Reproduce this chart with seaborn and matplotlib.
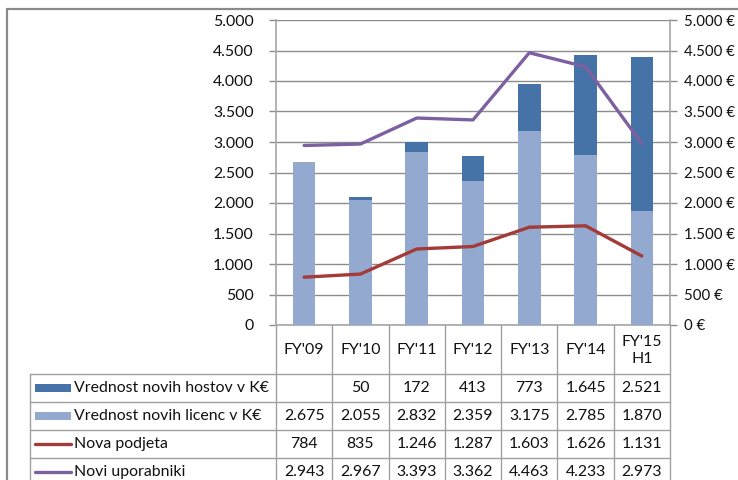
import numpy as np
import pandas as pd
import matplotlib
matplotlib.use("Agg")
import matplotlib.pyplot as plt
from matplotlib.lines import Line2D
from matplotlib.patches import Rectangle
import seaborn as sns

# ---- data ----
categories = ["FY'09", "FY'10", "FY'11", "FY'12", "FY'13", "FY'14", "FY'15\nH1"]
hostov = [np.nan, 50, 172, 413, 773, 1645, 2521]        # Vrednost novih hostov v K€
licenc = [2675, 2055, 2832, 2359, 3175, 2785, 1870]     # Vrednost novih licenc v K€
podjeta = [784, 835, 1246, 1287, 1603, 1626, 1131]      # Nova podjeta
uporabniki = [2943, 2967, 3393, 3362, 4463, 4233, 2973] # Novi uporabniki
series_names = ["Vrednost novih hostov v K€", "Vrednost novih licenc v K€",
                "Nova podjeta", "Novi uporabniki"]
yticks = [0, 500, 1000, 1500, 2000, 2500, 3000, 3500, 4000, 4500, 5000]

C_DARK = "#4572A7"
C_LIGHT = "#94A9D0"
C_RED = "#A33B38"
C_PURPLE = "#7D60A0"
GRID = "#8C8C8C"
TXT = "#111111"

sns.set_style("white")
plt.rcParams["font.family"] = ["Lato", "DejaVu Sans"]
FS = 11.4

def fmt(v):
    if v is None or (isinstance(v, float) and np.isnan(v)):
        return ""
    return f"{int(round(v)):,}".replace(",", ".")

W, H = 738, 480
fig = plt.figure(figsize=(W / 100, H / 100), dpi=100)

L, R, T, B = 276, 670, 20, 325
ax = fig.add_axes([L / W, 1 - B / H, (R - L) / W, (B - T) / H])

df = pd.DataFrame({"cat": categories, "hostov": hostov, "licenc": licenc})
df["total"] = df["licenc"] + df["hostov"].fillna(0)

sns.barplot(data=df, x="cat", y="total", color=C_DARK, saturation=1, width=0.4,
            errorbar=None, ax=ax, zorder=2, edgecolor="none")
sns.barplot(data=df, x="cat", y="licenc", color=C_LIGHT, saturation=1, width=0.4,
            errorbar=None, ax=ax, zorder=3, edgecolor="none")
ax.set_xlim(-0.5, len(categories) - 0.5)
ax.set_ylim(0, 5000)
ax.set_yticks(yticks)
ax.set_yticklabels([fmt(v) for v in yticks], fontsize=FS, color=TXT)
ax.set_xticks([])
ax.set_xlabel("")
ax.set_ylabel("")
ax.grid(axis="y", color=GRID, linewidth=1.0, zorder=0)
ax.set_axisbelow(True)
for s in ["top", "right"]:
    ax.spines[s].set_visible(False)
for s in ["left", "bottom"]:
    ax.spines[s].set_color("#A6A6A6")
    ax.spines[s].set_linewidth(1.2)
ax.tick_params(axis="y", direction="out", length=5, width=1, color=GRID, pad=11, left=True)

ax2 = ax.twinx()
xs = np.arange(len(categories))
sns.lineplot(x=xs, y=podjeta, ax=ax2, color=C_RED, linewidth=2.4, legend=False)
sns.lineplot(x=xs, y=uporabniki, ax=ax2, color=C_PURPLE, linewidth=2.4, legend=False)
ax2.set_ylim(0, 5000)
ax2.set_xlim(-0.5, len(categories) - 0.5)
ax2.set_yticks(yticks)
ax2.set_yticklabels([fmt(v) + " €" for v in yticks], fontsize=10.8, color=TXT)
ax2.set_ylabel("")
for s in ["top", "left", "bottom"]:
    ax2.spines[s].set_visible(False)
ax2.spines["right"].set_color("#A6A6A6")
ax2.spines["right"].set_linewidth(1.2)
ax2.tick_params(axis="y", direction="out", length=5, width=1, color=GRID, pad=5, right=True)

# ---- overlay for table and frame (pixel coordinates) ----
ov = fig.add_axes([0, 0, 1, 1], zorder=-1)
ov.set_xlim(0, W)
ov.set_ylim(H, 0)
ov.axis("off")

# outer frame
ov.add_line(Line2D([7, 7], [9, H + 5], color="#8A8A8A", lw=1.6))
ov.add_line(Line2D([7, W + 5], [9, 9], color="#8A8A8A", lw=1.6))

fig.canvas.draw()
inv = ov.transData.inverted()
def col_px(i):
    disp = ax.transData.transform((i, 0))
    return inv.transform(disp)[0]

edges = [col_px(i - 0.5) for i in range(len(categories) + 1)]
centers = [col_px(i) for i in range(len(categories))]

TL = 30
hdr_bot = 374
row_h = 28
rows_y = [hdr_bot + k * row_h for k in range(5)]
TCOL = "#A0A0A0"

# vertical lines
for e in edges:
    ov.add_line(Line2D([e, e], [B, rows_y[-1]], color=TCOL, lw=1.0))
ov.add_line(Line2D([TL, TL], [hdr_bot, rows_y[-1]], color=TCOL, lw=1.0))
# horizontal lines
for y in rows_y:
    ov.add_line(Line2D([TL, edges[-1]], [y, y], color=TCOL, lw=1.0))

# header
for cx, c in zip(centers, categories):
    ov.text(cx, (B + hdr_bot) / 2 + 1, c, ha="center", va="center", fontsize=FS,
            color=TXT, linespacing=1.35)

table_vals = [hostov, licenc, podjeta, uporabniki]
keys = [("rect", C_DARK), ("rect", C_LIGHT), ("line", C_RED), ("line", C_PURPLE)]
for r, (name, vals, key) in enumerate(zip(series_names, table_vals, keys)):
    yc = rows_y[r] + row_h / 2
    if key[0] == "rect":
        ov.add_patch(Rectangle((35, yc - 4), 36, 8, color=key[1], lw=0))
    else:
        ov.add_line(Line2D([35, 71], [yc, yc], color=key[1], lw=2.4))
    ov.text(74, yc, name, ha="left", va="center", fontsize=FS, color=TXT)
    for cx, v in zip(centers, vals):
        ov.text(cx, yc, fmt(v), ha="center", va="center", fontsize=FS, color=TXT)

fig.savefig("out.png", dpi=100)
